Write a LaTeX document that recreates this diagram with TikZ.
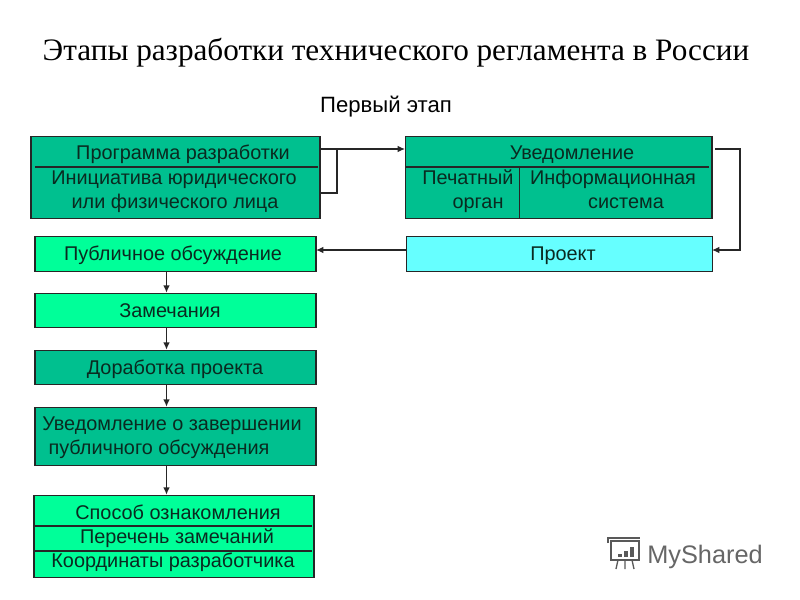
\documentclass[tikz,border=0pt]{standalone}
\usepackage{fontspec}
\setmainfont{Liberation Sans}
\newfontfamily\titlefont{Liberation Serif}
\usetikzlibrary{arrows.meta}
\definecolor{darkbox}{HTML}{00C08F}
\definecolor{lightbox}{HTML}{00FF99}
\definecolor{cyanbox}{HTML}{66FFFF}
\definecolor{inktext}{HTML}{0A2A20}
\tikzset{
etapbox/.style={draw=black!85,line width=1.1pt,inner sep=0pt},
etaptext/.style={anchor=base,inner sep=0pt,text=inktext,yshift=-0.75pt,font=\fontsize{14.9}{17}\selectfont},
etapline/.style={line width=1pt,black!85},
etaparrow/.style={line width=1pt,black!85,-{Latex[length=5.5pt,width=5pt]}}
}
\begin{document}
\begin{tikzpicture}[x=0.75pt,y=-0.75pt]
\useasboundingbox (0,0) rectangle (800,600);
\node[anchor=base,inner sep=0pt,font=\titlefont\fontsize{23.4}{28}\selectfont] (title) at (396,60) {Этапы разработки технического регламента в России};
\node[anchor=base,inner sep=0pt,font=\fontsize{16.6}{19}\selectfont] (stage) at (386,112) {Первый этап};
% верхние блоки
\draw[etapbox,fill=darkbox] (31,136.5) rectangle (320,218.5);
\draw[etapbox,fill=darkbox] (405.5,136.5) rectangle (712,218.5);
\coordinate (progA) at (35,167);
\coordinate (progB) at (318,167);
\coordinate (noteA) at (405,167);
\coordinate (noteB) at (709,167);
\coordinate (noteC) at (519.5,167);
\coordinate (noteD) at (519.5,218);
\draw[etapline] (progA) -- (progB);
\draw[etapline] (noteA) -- (noteB);
\draw[etapline] (noteC) -- (noteD);
% блоки слева и проект
\node[etapbox,fill=lightbox,minimum width=210.75pt,minimum height=26.25pt] (discuss) at (175.5,254) {};
\node[etapbox,fill=cyanbox,minimum width=229.5pt,minimum height=26.25pt] (project) at (559.5,254) {};
\node[etapbox,fill=lightbox,minimum width=210.75pt,minimum height=25.5pt] (remarks) at (175.5,310.5) {};
\node[etapbox,fill=darkbox,minimum width=210.75pt,minimum height=25.5pt] (rework) at (175.5,367.5) {};
\node[etapbox,fill=darkbox,minimum width=210.75pt,minimum height=43.5pt] (finish) at (175.5,436.5) {};
\node[etapbox,fill=lightbox,minimum width=210pt,minimum height=61.5pt] (method) at (174,536.5) {};
\coordinate (methodA) at (35,526);
\coordinate (methodB) at (312,526);
\coordinate (methodC) at (35,551);
\coordinate (methodD) at (312,551);
\draw[etapline] (methodA) -- (methodB);
\draw[etapline] (methodC) -- (methodD);
% подписи
\node[etaptext] (t1) at (183,158) {Программа разработки};
\node[etaptext] (t2) at (174,183) {Инициатива юридического};
\node[etaptext] (t3) at (175,207) {или физического лица};
\node[etaptext] (t4) at (572,158) {Уведомление};
\node[etaptext] (t5) at (468,183) {Печатный};
\node[etaptext] (t6) at (478,207) {орган};
\node[etaptext] (t7) at (613,183) {Информационная};
\node[etaptext] (t8) at (626,207) {система};
\node[etaptext] (t9) at (173,259) {Публичное обсуждение};
\node[etaptext] (t10) at (563,259) {Проект};
\node[etaptext] (t11) at (170,316) {Замечания};
\node[etaptext] (t12) at (175,373) {Доработка проекта};
\node[etaptext] (t13) at (172,429) {Уведомление о завершении};
\node[etaptext] (t14) at (159,453) {публичного обсуждения};
\node[etaptext] (t15) at (178,518) {Способ ознакомления};
\node[etaptext] (t16) at (177,542) {Перечень замечаний};
\node[etaptext] (t17) at (173,566) {Координаты разработчика};
% связи
\coordinate (progOut) at (320,149);
\coordinate (progIn) at (320,193);
\coordinate (progTurn) at (337,193);
\coordinate (progJoin) at (337,149);
\coordinate (noteIn) at (405,149);
\coordinate (noteOut) at (715,149);
\coordinate (noteTurn) at (740,149);
\coordinate (projTurn) at (740,250);
\coordinate (projIn) at (712,250);
\coordinate (projOut) at (406,250);
\coordinate (pubIn) at (316,250);
\draw[etaparrow] (progOut) -- (noteIn);
\draw[etapline] (progIn) -- (progTurn) -- (progJoin);
\draw[etaparrow] (noteOut) -- (noteTurn) -- (projTurn) -- (projIn);
\draw[etaparrow] (projOut) -- (pubIn);
\foreach \a/\b in {discuss/remarks,remarks/rework,rework/finish,finish/method}
\draw[etaparrow,line width=1.3pt] (\a.south -| 166.5,0) -- (\b.north -| 166.5,0);
% логотип
\node[anchor=base west,inner sep=0pt,text=black!60,font=\fontsize{19}{23}\selectfont] (logo) at (647,563) {MyShared};
\draw[black!65,line width=1pt] (611,541) rectangle (639,560);
\draw[black!65,line width=1pt] (608,543) -- (608,538) -- (640,538);
\foreach \x/\h in {618/3,624/6,630/10}
\fill[black!65] (\x,557) rectangle +(4,-\h);
\draw[black!65,line width=1pt] (618,560) -- (616,569) (625,560) -- (625,569) (632,560) -- (634,569);
\end{tikzpicture}
\end{document}
